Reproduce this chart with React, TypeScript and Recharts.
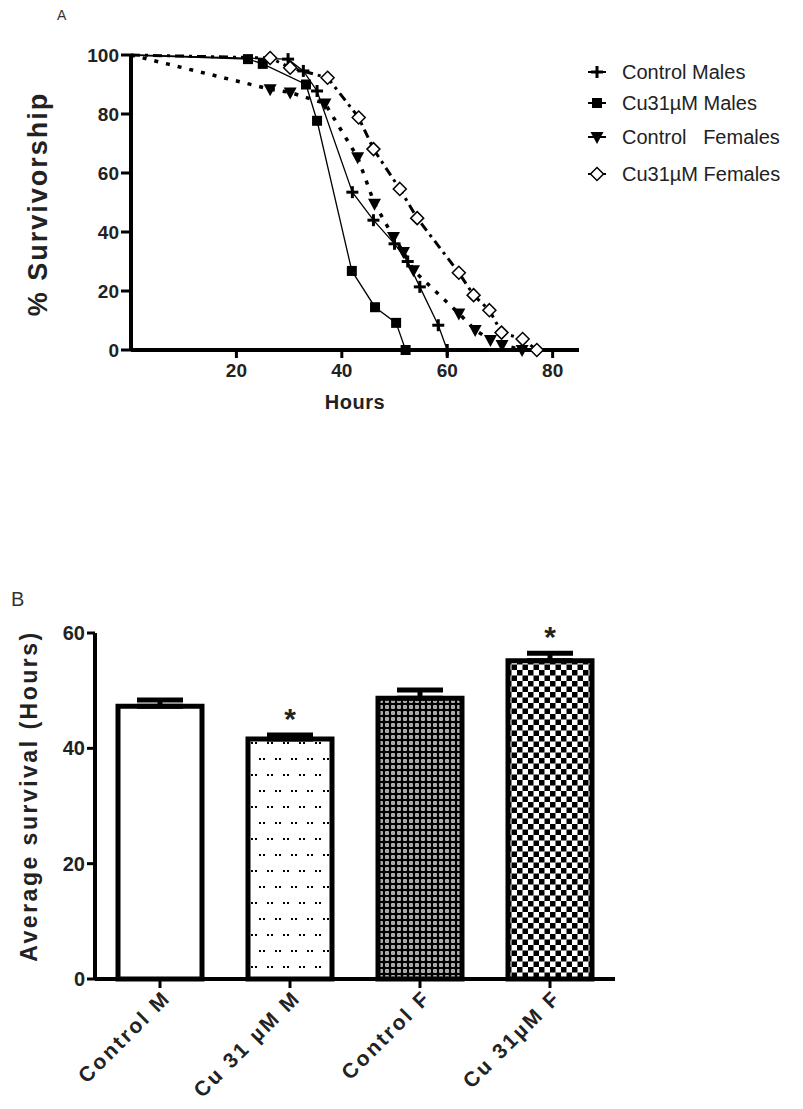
import React from 'react';
import {
  LineChart, Line, XAxis, YAxis, Legend, Label,
  BarChart, Bar, Cell, ErrorBar, LabelList,
} from 'recharts';

const FONT = '"Liberation Sans", Arial, Helvetica, sans-serif';

// ---------- Panel A data ----------
const seriesNames = ['Control Males', 'Cu31\u00b5M Males', 'Control   Females', 'Cu31\u00b5M Females'];
const controlMalesHours = [0, 29.8, 32.7, 35.3, 42, 46, 50, 52.5, 54.8, 58.3, 60];
const controlMalesSurv = [100, 98.6, 94.6, 87.8, 53.5, 44, 36, 30, 21.4, 8.4, 0];
const cuMalesHours = [0, 22.2, 25, 33.2, 35.3, 41.9, 46.3, 50.3, 52.1];
const cuMalesSurv = [100, 98.6, 97, 90, 77.7, 26.8, 14.5, 9.2, 0];
const controlFemalesHours = [0, 26.4, 30.2, 36.8, 43, 46.2, 49.8, 51.7, 53.6, 62.2, 65.3, 68.2, 70.4, 74.2];
const controlFemalesSurv = [100, 88.4, 87.3, 83.6, 65.3, 49.6, 38.3, 33.2, 27, 12.4, 6.8, 3.4, 1.7, 0];
const cuFemalesHours = [0, 26.4, 30.2, 37.3, 43.2, 46, 51, 54.3, 62.2, 65, 68, 70.3, 74.3, 77];
const cuFemalesSurv = [100, 99, 95.7, 92.3, 78.8, 68.1, 54.6, 44.7, 26.2, 18.6, 13.5, 5.9, 3.7, 0];
const hourTicks = [20, 40, 60, 80];
const survTicks = [0, 20, 40, 60, 80, 100];

// ---------- Panel B data ----------
const groups = ['Control M', 'Cu 31 \u00b5M M', 'Control F', 'Cu 31\u00b5M F'];
const meanSurvival = [47.3, 41.6, 48.7, 55.2];
const semSurvival = [1.1, 0.7, 1.4, 1.3];
const significance = ['', '*', '', '*'];
const avgTicks = [0, 20, 40, 60];

const toPoints = (xs: number[], ys: number[]) => xs.map((x, i) => ({ x, y: ys[i] }));

const seriesStyles = [
  { kind: 'plus', dash: undefined, width: 1.3 },
  { kind: 'square', dash: undefined, width: 1.3 },
  { kind: 'tri', dash: '4 8', width: 3.5 },
  { kind: 'diamond', dash: '9 5 3 5', width: 3 },
];
const seriesData = [
  toPoints(controlMalesHours, controlMalesSurv),
  toPoints(cuMalesHours, cuMalesSurv),
  toPoints(controlFemalesHours, controlFemalesSurv),
  toPoints(cuFemalesHours, cuFemalesSurv),
];

const barData = groups.map((name, i) => ({
  name,
  mean: meanSurvival[i],
  err: [0, semSurvival[i]],
  sig: significance[i],
}));
const barFills = ['#ffffff', 'url(#patDots)', 'url(#patFine)', 'url(#patChecker)'];

function Marker({ kind, cx, cy }: { kind: string; cx: number; cy: number }) {
  switch (kind) {
    case 'plus':
      return (
        <g>
          <line x1={cx - 6} y1={cy} x2={cx + 6} y2={cy} stroke="#000" strokeWidth={3} />
          <line x1={cx} y1={cy - 6} x2={cx} y2={cy + 6} stroke="#000" strokeWidth={3} />
        </g>
      );
    case 'square':
      return <rect x={cx - 5} y={cy - 5} width={10} height={10} fill="#000" />;
    case 'tri':
      return <polygon points={`${cx - 6.5},${cy - 5} ${cx + 6.5},${cy - 5} ${cx},${cy + 7}`} fill="#000" />;
    case 'diamond':
      return (
        <polygon
          points={`${cx},${cy - 6.5} ${cx + 6.5},${cy} ${cx},${cy + 6.5} ${cx - 6.5},${cy}`}
          fill="#fff"
          stroke="#000"
          strokeWidth={1.5}
        />
      );
    default:
      return null;
  }
}

const makeDot = (kind: string) => (props: any) => {
  const { cx, cy, index } = props;
  const key = `dot-${kind}-${index}`;
  if (cx == null || cy == null || index === 0) return <g key={key} />;
  return (
    <g key={key}>
      <Marker kind={kind} cx={cx} cy={cy} />
    </g>
  );
};

const legendCenters = [72, 103, 137, 174];

const renderLegend = () => (
  <div style={{ position: 'relative', width: 803, height: 0 }}>
    {seriesNames.map((n, i) => (
      <div
        key={n}
        style={{
          position: 'absolute',
          left: 584,
          top: legendCenters[i] - 13,
          height: 26,
          display: 'flex',
          alignItems: 'center',
          whiteSpace: 'pre',
          fontFamily: FONT,
          fontSize: 20,
          color: '#222',
        }}
      >
        <svg width={26} height={26}>
          <line x1={4} y1={13} x2={22} y2={13} stroke="#000" strokeWidth={2} />
          <Marker kind={seriesStyles[i].kind} cx={13} cy={13} />
        </svg>
        <span style={{ marginLeft: 12 }}>{n}</span>
      </div>
    ))}
  </div>
);

const CategoryTick = (props: any) => {
  const { x, y, payload } = props;
  const ax = Number(x) + 12;
  const ay = Number(y) + 9;
  return (
    <text
      x={ax}
      y={ay}
      transform={`rotate(-45 ${ax} ${ay})`}
      textAnchor="end"
      fontFamily={FONT}
      fontWeight={700}
      fontSize={21}
      letterSpacing={2.5}
      fill="#222"
    >
      {payload.value}
    </text>
  );
};

const StarLabel = (props: any) => {
  const { x, y, width, height, value } = props;
  const i = groups.indexOf(value);
  if (i < 0 || !significance[i]) return null;
  const pxPerUnit = Number(height) / meanSurvival[i];
  const capY = Number(y) - semSurvival[i] * pxPerUnit;
  const cx = Number(x) + Number(width) / 2;
  return (
    <text
      x={cx}
      y={capY - 6}
      textAnchor="middle"
      fontFamily={FONT}
      fontWeight={700}
      fontSize={30}
      fill="#222"
    >
      {significance[i]}
    </text>
  );
};

export default function App() {
  const axisLine = { stroke: '#000', strokeWidth: 4 };
  const tickLine = { stroke: '#000', strokeWidth: 3 };
  const tickStyle = { fill: '#222', fontSize: 19, fontWeight: 700, fontFamily: FONT };
  return (
    <div
      style={{
        position: 'absolute',
        left: 0,
        top: 0,
        width: 803,
        height: 1109,
        background: '#fff',
        fontFamily: FONT,
        overflow: 'hidden',
      }}
    >
      <div style={{ position: 'absolute', left: 57, top: 7, fontSize: 14, color: '#333' }}>A</div>
      <div style={{ position: 'absolute', left: 11, top: 588, fontSize: 20, color: '#333' }}>B</div>

      <div style={{ position: 'absolute', left: 0, top: 0 }}>
        <LineChart width={803} height={420} margin={{ top: 55, right: 224, bottom: 40, left: 71 }}>
          <XAxis
            type="number"
            dataKey="x"
            domain={[0, 85]}
            ticks={hourTicks}
            allowDataOverflow
            height={30}
            axisLine={axisLine}
            tickLine={tickLine}
            tickSize={8}
            tickMargin={6}
            tick={tickStyle}
          >
            <Label
              content={() => (
                <text x={355} y={402} textAnchor="middle" dominantBaseline="central" fontFamily={FONT}
                  fontWeight={700} fontSize={20} letterSpacing={0.5} fill="#222">
                  Hours
                </text>
              )}
            />
          </XAxis>
          <YAxis
            type="number"
            domain={[0, 100]}
            ticks={survTicks}
            width={60}
            axisLine={axisLine}
            tickLine={tickLine}
            tickSize={10}
            tick={tickStyle}
          >
            <Label
              content={() => (
                <text x={38} y={204} transform="rotate(-90 38 204)" textAnchor="middle" dominantBaseline="central"
                  fontFamily={FONT} fontWeight={700} fontSize={27} letterSpacing={2} fill="#222">
                  % Survivorship
                </text>
              )}
            />
          </YAxis>
          <Legend layout="vertical" align="center" verticalAlign="middle"
            wrapperStyle={{ left: 0, top: 0, width: 803, height: 0 }} content={renderLegend} />
          {seriesData.map((d, i) => (
            <Line
              key={seriesNames[i]}
              data={d}
              dataKey="y"
              name={seriesNames[i]}
              type="linear"
              stroke="#000"
              strokeWidth={seriesStyles[i].width}
              strokeDasharray={seriesStyles[i].dash}
              dot={makeDot(seriesStyles[i].kind)}
              activeDot={false}
              isAnimationActive={false}
              legendType="none"
            />
          ))}
        </LineChart>
      </div>

      <div style={{ position: 'absolute', left: 0, top: 560 }}>
        <BarChart width={803} height={549} data={barData} margin={{ top: 73, right: 188, bottom: 10, left: 35 }}>
          <defs>
            <pattern id="patDots" patternUnits="userSpaceOnUse" width={16} height={32}>
              <rect width={16} height={32} fill="#fff" />
              <rect x={3} y={6} width={2} height={2} fill="#000" />
              <rect x={7} y={6} width={2} height={2} fill="#000" />
              <rect x={11} y={22} width={2} height={2} fill="#000" />
              <rect x={15} y={22} width={1} height={2} fill="#000" />
              <rect x={0} y={22} width={1} height={2} fill="#000" />
            </pattern>
            <pattern id="patFine" patternUnits="userSpaceOnUse" width={6} height={6}>
              <rect width={6} height={6} fill="#000" />
              <rect x={1.3} y={1.3} width={3.4} height={3.4} fill="#fff" />
              <rect x={2.4} y={2.4} width={1.2} height={1.2} fill="#000" />
            </pattern>
            <pattern id="patChecker" patternUnits="userSpaceOnUse" width={11} height={11}>
              <rect width={11} height={11} fill="#fff" />
              <rect x={0} y={0} width={5.5} height={5.5} fill="#000" />
              <rect x={5.5} y={5.5} width={5.5} height={5.5} fill="#000" />
            </pattern>
          </defs>
          <XAxis
            dataKey="name"
            height={120}
            interval={0}
            axisLine={axisLine}
            tickLine={tickLine}
            tickSize={9}
            tick={<CategoryTick />}
          />
          <YAxis
            type="number"
            domain={[0, 60]}
            ticks={avgTicks}
            width={60}
            axisLine={axisLine}
            tickLine={tickLine}
            tickSize={8}
            tick={{ ...tickStyle, fontSize: 20 }}
          >
            <Label
              content={() => (
                <text x={29} y={236} transform="rotate(-90 29 236)" textAnchor="middle" dominantBaseline="central"
                  fontFamily={FONT} fontWeight={700} fontSize={23} letterSpacing={2.5} fill="#222">
                  Average survival (Hours)
                </text>
              )}
            />
          </YAxis>
          <Bar dataKey="mean" barSize={84} stroke="#000" strokeWidth={5} isAnimationActive={false}>
            {barData.map((d, i) => (
              <Cell key={d.name} fill={barFills[i]} />
            ))}
            <ErrorBar dataKey="err" width={23} stroke="#000" strokeWidth={5} direction="y" />
            <LabelList dataKey="name" content={StarLabel} />
          </Bar>
        </BarChart>
      </div>
    </div>
  );
}
